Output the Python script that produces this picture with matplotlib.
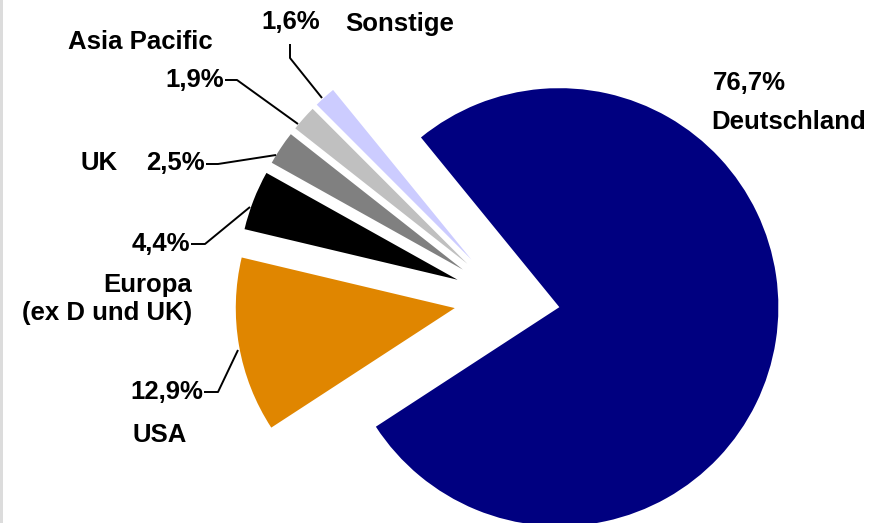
import matplotlib.pyplot as plt
from matplotlib.patches import Rectangle

# Daten
laender = ["Deutschland", "USA", "Europa\n(ex D und UK)", "UK", "Asia Pacific", "Sonstige"]
anteile = [76.7, 12.9, 4.4, 2.5, 1.9, 1.6]
farben = ["#000080", "#E08600", "#000000", "#808080", "#C0C0C0", "#CCCCFF"]

H = 523


def py(y):
    # Pixel-y (von oben) -> Daten-y (von unten)
    return H - y


def pct(v):
    return f"{v:.1f}%".replace(".", ",")


plt.rcParams["font.family"] = ["Liberation Sans", "DejaVu Sans"]

fig = plt.figure(figsize=(8.84, 5.23), dpi=100)
ax = fig.add_axes([0, 0, 1, 1])

# alle Segmente gleich weit herausgezogen
explode = [53] * len(anteile)
ax.pie(anteile, colors=farben, explode=explode, startangle=129.2,
       counterclock=False, radius=219, center=(507, py(299)),
       wedgeprops=dict(linewidth=0))

ax.set_xlim(0, 884)
ax.set_ylim(0, H)
ax.set_aspect("equal")
ax.axis("off")

# grauer Streifen links
fig.add_artist(Rectangle((0, 0), 3 / 884, 1, transform=fig.transFigure,
                         color="#DCDCDC", lw=0))

fs = 18.5
kw = dict(fontsize=fs, fontweight="bold", color="black")
lkw = dict(color="black", lw=1.4, solid_capstyle="butt")

# Deutschland
ax.text(713, py(83), pct(anteile[0]), ha="left", va="center", **kw)
ax.text(711, py(122), laender[0], ha="left", va="center", **kw)

# USA
ax.text(203, py(392), pct(anteile[1]), ha="right", va="center", **kw)
ax.text(133, py(435), laender[1], ha="left", va="center", **kw)
ax.plot([204, 218, 238], [py(392), py(392), py(350)], **lkw)

# Europa
ax.text(192, py(299), laender[2], ha="right", va="center",
        multialignment="right", linespacing=1.25, **kw)
ax.text(190, py(244), pct(anteile[2]), ha="right", va="center", **kw)
ax.plot([191, 205, 250], [py(244), py(244), py(207)], **lkw)

# UK
ax.text(80, py(163), laender[3], ha="left", va="center", **kw)
ax.text(205, py(163), pct(anteile[3]), ha="right", va="center", **kw)
ax.plot([206, 218, 276], [py(164), py(164), py(155)], **lkw)

# Asia Pacific
ax.text(140, py(42), laender[4], ha="center", va="center", **kw)
ax.text(224, py(80), pct(anteile[4]), ha="right", va="center", **kw)
ax.plot([225, 237, 298], [py(80), py(80), py(124)], **lkw)

# Sonstige
ax.text(291, py(22), pct(anteile[5]), ha="center", va="center", **kw)
ax.text(345, py(24), laender[5], ha="left", va="center", **kw)
ax.plot([290, 290, 322], [py(44), py(58), py(98)], **lkw)

plt.savefig("out.png", dpi=100)
